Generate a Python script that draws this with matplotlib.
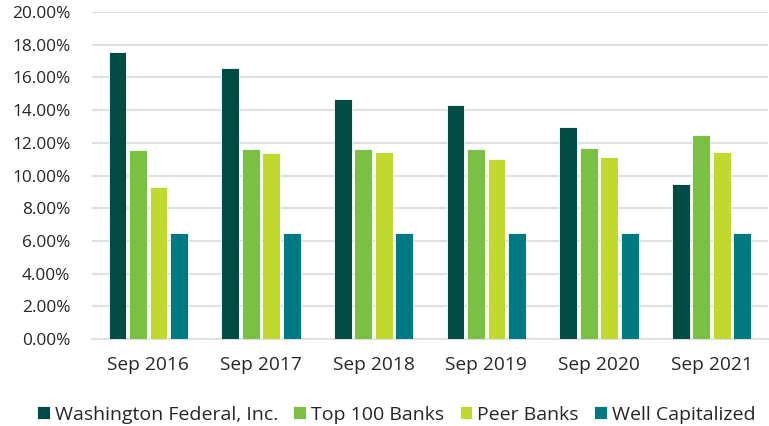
import matplotlib.pyplot as plt
import numpy as np
from matplotlib.ticker import FuncFormatter

plt.rcParams['font.family'] = ['Open Sans', 'DejaVu Sans']

# data
periods = ['Sep 2016', 'Sep 2017', 'Sep 2018', 'Sep 2019', 'Sep 2020', 'Sep 2021']
wafd = [17.55, 16.6, 14.7, 14.3, 12.95, 9.5]
top100 = [11.55, 11.65, 11.65, 11.65, 11.7, 12.45]
peer = [9.3, 11.35, 11.45, 11.0, 11.15, 11.45]
well_cap = [6.5, 6.5, 6.5, 6.5, 6.5, 6.5]

series = [
    ('Washington Federal, Inc.', wafd, '#004D45'),
    ('Top 100 Banks', top100, '#7AC143'),
    ('Peer Banks', peer, '#C1D82F'),
    ('Well Capitalized', well_cap, '#007A82'),
]

fig = plt.figure(figsize=(7.69, 4.26), dpi=100)
ax = fig.add_axes([0.1196, 0.204, 0.879, 0.768])

x = np.arange(len(periods))
step = 0.182
width = 0.158
for i, (name, vals, col) in enumerate(series):
    ax.bar(x + (i - 1.5) * step, vals, width, color=col, label=name,
           edgecolor='white', linewidth=0.6, zorder=3)

ax.set_xlim(-0.5, len(periods) - 0.5)
ax.set_ylim(0, 20)
ax.set_yticks(np.arange(0, 21, 2))
ax.yaxis.set_major_formatter(FuncFormatter(lambda v, p: f'{v:.2f}%'))
ax.set_xticks(x)
ax.set_xticklabels(periods)

ax.grid(axis='y', color='#DDE1E4', linewidth=1.5, zorder=0)
for s in ['top', 'right', 'left']:
    ax.spines[s].set_visible(False)
ax.spines['bottom'].set_color('#DDE1E4')
ax.spines['bottom'].set_linewidth(1.5)
ax.tick_params(length=0, colors='#262626')
ax.tick_params(axis='x', pad=12, labelsize=13.8)
ax.tick_params(axis='y', pad=15.5, labelsize=12.4)

ax.legend(loc='upper center', bbox_to_anchor=(0.45, -0.15), ncol=4, frameon=False,
          fontsize=14, handlelength=0.65, handleheight=0.65, handletextpad=0.25,
          columnspacing=0.8, labelcolor='#262626')

fig.savefig('out.png', dpi=100)
